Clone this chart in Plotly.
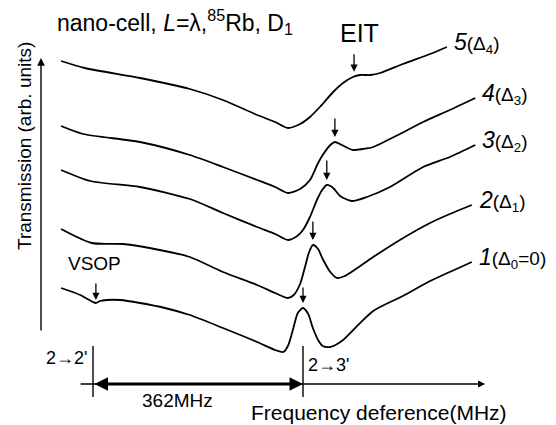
import numpy as np
import plotly.graph_objects as go

# ---------------- data (frequency in MHz, transmission in arb. units) ----------------
f1 = [-417, -384, -362, -357, -350, -338, -315, -281, -238, -195, -138, -79, -48, -34, -26, -17, -9, 0,
      9, 17, 26, 34, 47, 59, 69, 121, 172, 219, 253, 291]
t1 = [1.37, 1.30, 1.23, 1.22, 1.24, 1.25, 1.25, 1.22, 1.17, 1.10, 0.97, 0.83, 0.75, 0.73, 0.79, 0.96, 1.12, 1.17,
      1.11, 0.97, 0.85, 0.79, 0.78, 0.81, 0.85, 1.14, 1.29, 1.44, 1.53, 1.63]

f2 = [-417, -364, -310, -247, -195, -138, -79, -48, -26, -16, -5, 3, 10, 17, 26, 34, 47, 59, 72,
      121, 167, 219, 253, 291]
t2 = [1.96, 1.82, 1.81, 1.75, 1.68, 1.53, 1.40, 1.32, 1.27, 1.30, 1.41, 1.57, 1.72, 1.80, 1.76, 1.66, 1.53, 1.47, 1.49,
      1.68, 1.85, 2.02, 2.11, 2.20]

f3 = [-417, -367, -281, -195, -138, -79, -48, -26, -10, 0, 12, 24, 33, 41, 52, 64, 84, 110, 150, 207, 253, 297]
t3 = [2.55, 2.44, 2.38, 2.26, 2.12, 1.98, 1.91, 1.85, 1.89, 1.95, 2.08, 2.25, 2.35, 2.40, 2.37, 2.29, 2.24, 2.28,
      2.38, 2.58, 2.68, 2.80]

f4 = [-417, -379, -281, -195, -138, -79, -48, -26, -5, 12, 26, 34, 47, 55, 67, 86, 103, 121, 167, 207, 253, 297]
t4 = [2.99, 2.91, 2.83, 2.70, 2.58, 2.45, 2.38, 2.32, 2.36, 2.45, 2.62, 2.70, 2.80, 2.83, 2.80, 2.75, 2.76, 2.78,
      2.91, 3.03, 3.15, 3.27]

f5 = [-417, -376, -281, -195, -138, -79, -48, -26, -5, 12, 29, 52, 69, 86, 98, 116, 133, 172, 219, 248]
t5 = [3.64, 3.57, 3.47, 3.36, 3.25, 3.10, 3.03, 2.97, 3.01, 3.08, 3.18, 3.33, 3.42, 3.48, 3.50, 3.50, 3.52, 3.61,
      3.71, 3.78]

curve_freqs = [f1, f2, f3, f4, f5]
curve_trans = [t1, t2, t3, t4, t5]
curve_numbers = ["1", "2", "3", "4", "5"]
curve_detunings = ["(Δ<sub>0</sub>=0)", "(Δ<sub>1</sub>)", "(Δ<sub>2</sub>)", "(Δ<sub>3</sub>)", "(Δ<sub>4</sub>)"]
peak_freqs = [0, 17, 41, 55, 88]          # EIT / resonance positions marked by arrows
vsop_freq = -357                            # VSOP dip on curve 1
transition_freqs = [-362, 0]                # 2->2' and 2->3'
transition_labels = ["2→2'", "2→3'"]
spacing_label = "362MHz"

FONT = "Liberation Sans, Arial, sans-serif"


def txt(size):
    return dict(family=FONT, size=size, color="black")


fig = go.Figure()
for f, t in zip(curve_freqs, curve_trans):
    fig.add_trace(go.Scatter(x=f, y=t, mode="lines",
                             line=dict(color="black", width=1.8, shape="spline", smoothing=0.7),
                             hoverinfo="skip"))

ann = []
# right-hand curve labels
for f, t, n, d in zip(curve_freqs, curve_trans, curve_numbers, curve_detunings):
    ann.append(dict(x=f[-1], y=t[-1], xref="x", yref="y", xanchor="left", yanchor="middle",
                    xshift=5, yshift=4, showarrow=False,
                    text=f"<i>{n}</i><span style='font-size:19px'>{d}</span>",
                    font=txt(23)))

# arrows marking peaks
arrow_len = [-17, -20, -21, -20, -19]
for f, t, pf, L in zip(curve_freqs, curve_trans, peak_freqs, arrow_len):
    yt = float(np.interp(pf, f, t)) + 0.05
    ann.append(dict(x=pf, y=yt, xref="x", yref="y", ax=0, ay=L, text="", showarrow=True,
                    arrowhead=2, arrowsize=1.1, arrowwidth=1.3, arrowcolor="black", standoff=0))
# VSOP arrow
yv = float(np.interp(vsop_freq, f1, t1)) + 0.03
ann.append(dict(x=vsop_freq, y=yv, xref="x", yref="y", ax=0, ay=-18, text="", showarrow=True,
                arrowhead=2, arrowsize=1.1, arrowwidth=1.3, arrowcolor="black", standoff=0))
ann.append(dict(x=vsop_freq - 3, y=yv + 0.37, xref="x", yref="y", xanchor="center", yanchor="middle",
                text="VSOP", showarrow=False, font=txt(19)))

# EIT label
ann.append(dict(x=peak_freqs[4] + 10, y=3.92, xref="x", yref="y", xanchor="center", yanchor="middle",
                text="EIT", showarrow=False, font=txt(25)))

# title text
ann.append(dict(x=55 / 556, y=1 - 22 / 425, xref="paper", yref="paper", xanchor="left", yanchor="middle",
                text="nano-cell, <i>L</i>=λ,<sup>85</sup>Rb, D<sub>1</sub>", showarrow=False, font=txt(23)))

# y axis arrow + label
ann.append(dict(x=-451.6, y=3.67, ax=-451.6, ay=0.93, xref="x", yref="y", axref="x", ayref="y",
                text="", showarrow=True, arrowhead=2, arrowsize=1.1, arrowwidth=1.4, arrowcolor="black",
                standoff=0))
ann.append(dict(x=24 / 556, y=1 - 146 / 425, xref="paper", yref="paper", xanchor="center", yanchor="middle",
                textangle=-90, text="Transmission (arb. units)", showarrow=False, font=txt(19)))

# frequency axis (thin arrow)
axis_y = 0.41
ann.append(dict(x=314, y=axis_y, ax=-386, ay=axis_y, xref="x", yref="y", axref="x", ayref="y",
                text="", showarrow=True, arrowhead=2, arrowsize=1.1, arrowwidth=1.3, arrowcolor="black",
                standoff=0))
# thick double arrow between transitions
ann.append(dict(x=transition_freqs[1], y=axis_y, ax=transition_freqs[0], ay=axis_y,
                xref="x", yref="y", axref="x", ayref="y", text="", showarrow=True,
                arrowside="end+start", arrowhead=2, startarrowhead=2, arrowsize=0.9, startarrowsize=0.9,
                arrowwidth=3, arrowcolor="black", standoff=0, startstandoff=0))
ann.append(dict(x=-217, y=0.25, xref="x", yref="y", xanchor="center", yanchor="middle",
                text=spacing_label, showarrow=False, font=txt(19)))
ann.append(dict(x=379 / 556, y=1 - 412 / 425, xref="paper", yref="paper", xanchor="center", yanchor="middle",
                text="Frequency deference(MHz)", showarrow=False, font=txt(21)))

# transition labels
ann.append(dict(x=transition_freqs[0], y=0.67, xref="x", yref="y", xanchor="right", yanchor="middle", xshift=-4,
                text=transition_labels[0], showarrow=False, font=txt(18)))
ann.append(dict(x=transition_freqs[1], y=0.60, xref="x", yref="y", xanchor="left", yanchor="middle", xshift=3,
                text=transition_labels[1], showarrow=False, font=txt(18)))

shapes = []
for tf in transition_freqs:
    shapes.append(dict(type="line", x0=tf, x1=tf, y0=0.28, y1=0.79, xref="x", yref="y",
                       line=dict(color="black", width=1.4)))

fig.update_layout(
    width=556, height=425,
    margin=dict(l=0, r=0, t=0, b=0, autoexpand=False),
    paper_bgcolor="white", plot_bgcolor="white",
    showlegend=False,
    hovermode=False,
    xaxis=dict(visible=False, range=[-522.3, 436.1], fixedrange=True),
    yaxis=dict(visible=False, range=[0, 4.25], fixedrange=True),
    annotations=ann, shapes=shapes,
)

fig.write_html("out.html", config={"displayModeBar": False, "staticPlot": True},
               post_script="document.body.style.margin='0';")
